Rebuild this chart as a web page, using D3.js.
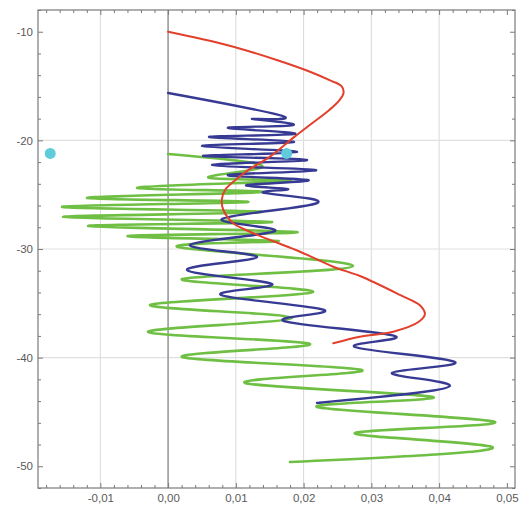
<!DOCTYPE html>
<html><head><meta charset="utf-8">
<script src="https://cdn.jsdelivr.net/npm/d3@7"></script>
<style>
body{margin:0;background:#fff}
text{font-family:"Liberation Sans","DejaVu Sans",Arial,sans-serif;}
</style>
</head><body>
<svg id="c" width="523" height="507"></svg>
<script>
// ---- data ----
const redX = [0, 0.00866, 0.01603, 0.02094, 0.02400, 0.02560, 0.02590, 0.02530, 0.02380, 0.02130, 0.01860, 0.01504, 0.01209, 0.01013, 0.00841, 0.00792, 0.00816, 0.00963, 0.01209, 0.01504, 0.01947, 0.02438, 0.02832, 0.03422, 0.03720, 0.03790, 0.03700, 0.03323, 0.02832, 0.02438];
const redY = [-10.0, -11.22, -12.60, -13.68, -14.50, -15.00, -15.60, -16.30, -17.20, -18.40, -19.70, -21.50, -22.63, -23.55, -24.57, -25.49, -26.41, -27.63, -28.41, -29.17, -30.25, -31.63, -32.49, -34.23, -35.20, -36.00, -36.70, -37.61, -38.07, -38.68];

const blueX = [0, 0.01726, 0.01239, 0.01844, 0.00885, 0.01873, 0.00605, 0.01858, 0.00501, 0.01903, 0.00516, 0.02050, 0.00649, 0.02183, 0.00885, 0.02065, 0.01165, 0.01770, 0.01416, 0.02198, 0.00796, 0.01578, 0.00324, 0.01313, 0.00280, 0.01534, 0.00782, 0.02301, 0.01711, 0.03348, 0.02758, 0.04233, 0.03304, 0.04159, 0.02198];
const blueY = [-15.64, -17.85, -18.03, -18.59, -18.86, -19.41, -19.69, -20.15, -20.52, -21.07, -21.44, -21.80, -22.27, -22.73, -23.19, -23.65, -24.11, -24.48, -24.84, -25.77, -27.24, -28.34, -29.63, -30.74, -31.93, -33.22, -34.23, -35.61, -36.63, -38.01, -39.02, -40.40, -41.41, -42.61, -44.17];

const greenX = [0, 0.01386, 0.00619, 0.01755, -0.00457, 0.01386, -0.01195, 0.01180, -0.01563, 0.01386, -0.01549, 0.01534, -0.01180, 0.01903, -0.00590, 0.01622, 0.00147, 0.02729, 0.00206, 0.02139, -0.00265, 0.01829, -0.00295, 0.02094, 0.00206, 0.02861, 0.01136, 0.03909, 0.02198, 0.04823, 0.02758, 0.04779, 0.01799];
const greenY = [-21.25, -22.45, -23.46, -23.74, -24.38, -24.75, -25.30, -25.67, -26.13, -26.59, -27.05, -27.51, -27.88, -28.43, -28.80, -29.26, -29.82, -31.56, -32.76, -33.96, -35.15, -36.35, -37.64, -38.74, -39.94, -41.14, -42.33, -43.62, -44.54, -45.92, -46.94, -48.22, -49.61];

const dotX = [-0.0174, 0.0175];
const dotY = [-21.2, -21.2];

const xMajor = [-0.01, 0, 0.01, 0.02, 0.03, 0.04, 0.05];
const xLabels = ["-0,01", "0,00", "0,01", "0,02", "0,03", "0,04", "0,05"];
const yMajor = [-10, -20, -30, -40, -50];
const yLabels = ["-10", "-20", "-30", "-40", "-50"];
const xGrid = [-0.01, 0.01, 0.02, 0.03, 0.04];
const yGrid = [-20, -30, -40];

// ---- layout ----
const L = 38, R = 515, T = 10, B = 488;
const svg = d3.select("#c");
const x = d3.scaleLinear().domain([-0.0192, 0.0512]).range([L, R]);
const y = d3.scaleLinear().domain([-8, -52]).range([T, B]);

const xMinor = d3.range(-0.018, 0.0511, 0.002).map(v => +v.toFixed(4)).filter(v => !xMajor.some(m => Math.abs(m - v) < 1e-6));
const yMinor = d3.range(-52, -7.9, 2).filter(v => v % 10 !== 0);

// grid
svg.append("g").selectAll("line").data(xGrid).join("line")
  .attr("x1", d => x(d)).attr("x2", d => x(d)).attr("y1", T).attr("y2", B)
  .attr("stroke", "#d9d9d9").attr("stroke-width", 1);
svg.append("g").selectAll("line").data(yGrid).join("line")
  .attr("y1", d => y(d)).attr("y2", d => y(d)).attr("x1", L).attr("x2", R)
  .attr("stroke", "#e0e0e0").attr("stroke-width", 1.2);
svg.append("line").attr("x1", x(0)).attr("x2", x(0)).attr("y1", T).attr("y2", B)
  .attr("stroke", "#9a9a9a").attr("stroke-width", 1.6);

// axes
const fmtX = d => xLabels[xMajor.findIndex(m => Math.abs(m - d) < 1e-9)];
const fmtY = d => yLabels[yMajor.indexOf(d)];
function styleAxis(g) {
  g.select(".domain").remove();
  g.selectAll(".tick line").attr("stroke", "#7a7a7a");
  g.selectAll("text").attr("fill", "#5a5a5a").attr("font-size", 11.5);
}
svg.append("g").attr("transform", `translate(0,${B})`)
  .call(d3.axisBottom(x).tickValues(xMajor).tickFormat(fmtX).tickSize(-5).tickPadding(6)).call(styleAxis);
svg.append("g").attr("transform", `translate(0,${B})`)
  .call(d3.axisBottom(x).tickValues(xMinor).tickFormat("").tickSize(-3)).call(styleAxis);
svg.append("g").attr("transform", `translate(0,${T})`)
  .call(d3.axisTop(x).tickValues(xMajor).tickFormat("").tickSize(-5)).call(styleAxis);
svg.append("g").attr("transform", `translate(0,${T})`)
  .call(d3.axisTop(x).tickValues(xMinor).tickFormat("").tickSize(-3)).call(styleAxis);
svg.append("g").attr("transform", `translate(${L},0)`)
  .call(d3.axisLeft(y).tickValues(yMajor).tickFormat(fmtY).tickSize(-5).tickPadding(5)).call(styleAxis);
svg.append("g").attr("transform", `translate(${L},0)`)
  .call(d3.axisLeft(y).tickValues(yMinor).tickFormat("").tickSize(-3)).call(styleAxis);
svg.append("g").attr("transform", `translate(${R},0)`)
  .call(d3.axisRight(y).tickValues(yMajor).tickFormat("").tickSize(-5)).call(styleAxis);
svg.append("g").attr("transform", `translate(${R},0)`)
  .call(d3.axisRight(y).tickValues(yMinor).tickFormat("").tickSize(-3)).call(styleAxis);

svg.append("rect").attr("x", L).attr("y", T).attr("width", R - L).attr("height", B - T)
  .attr("fill", "none").attr("stroke", "#7a7a7a").attr("stroke-width", 1.2);

// series
const lineNat = d3.line().x(d => x(d[0])).y(d => y(d[1])).curve(d3.curveNatural);
const lineCR = d3.line().x(d => x(d[0])).y(d => y(d[1])).curve(d3.curveCatmullRom.alpha(0.5));
const series = [
  {xs: greenX, ys: greenY, color: "#6fbf44", w: 2.6, gen: lineNat},
  {xs: blueX, ys: blueY, color: "#373a93", w: 2.4, gen: lineNat},
  {xs: redX, ys: redY, color: "#e2402c", w: 2, gen: lineCR}
];
series.forEach(s => {
  svg.append("path").datum(d3.zip(s.xs, s.ys)).attr("d", s.gen)
    .attr("fill", "none").attr("stroke", s.color).attr("stroke-width", s.w)
    .attr("stroke-linejoin", "round").attr("stroke-linecap", "round");
});

svg.append("g").selectAll("circle").data(d3.zip(dotX, dotY)).join("circle")
  .attr("cx", d => x(d[0])).attr("cy", d => y(d[1])).attr("r", 5.5)
  .attr("fill", "#5fcbdb");
</script>
</body></html>
